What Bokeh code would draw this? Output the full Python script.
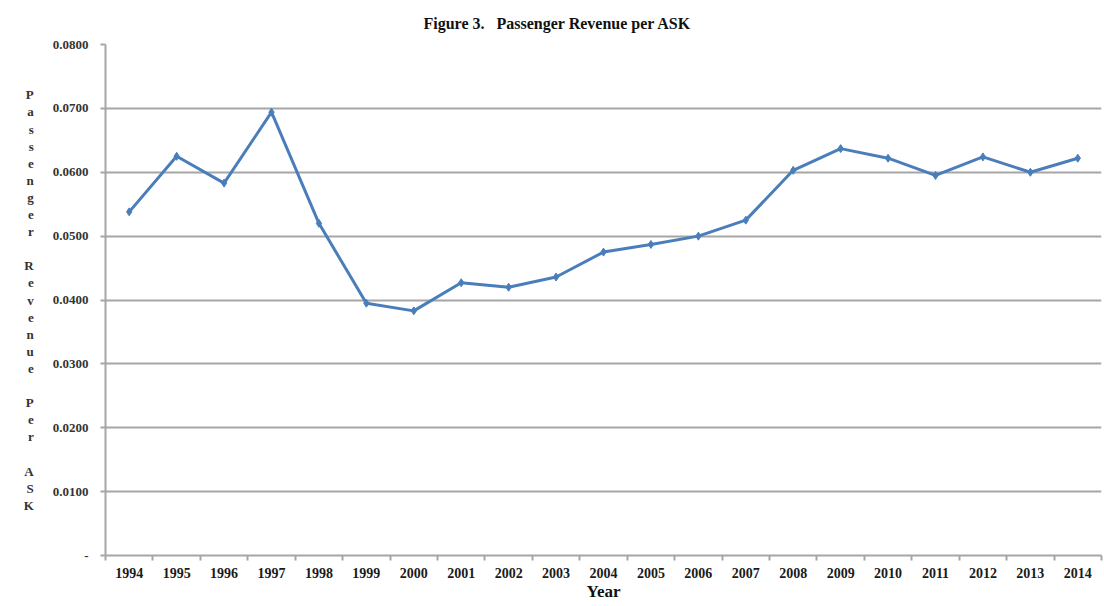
from bokeh.plotting import figure
from bokeh.models import FixedTicker, NumeralTickFormatter, Range1d
from bokeh.embed import file_html
from bokeh.resources import INLINE

# Passenger revenue per available seat kilometre, by year
years = [1994, 1995, 1996, 1997, 1998, 1999, 2000, 2001, 2002, 2003, 2004,
         2005, 2006, 2007, 2008, 2009, 2010, 2011, 2012, 2013, 2014]
revenue_per_ask = [0.0538, 0.0625, 0.0583, 0.0694, 0.0520, 0.0395, 0.0383,
                   0.0427, 0.0420, 0.0436, 0.0475, 0.0487, 0.0500, 0.0525,
                   0.0603, 0.0637, 0.0622, 0.0595, 0.0624, 0.0600, 0.0622]
y_ticks = [0.0, 0.01, 0.02, 0.03, 0.04, 0.05, 0.06, 0.07, 0.08]

title_text = "Figure 3.\u00a0\u00a0\u00a0Passenger Revenue per ASK"
y_title = "\n".join(list("Passenger") + [" "] + list("Revenue") + [" "] +
                    list("Per") + [" "] + list("ASK"))

SERIF = "Liberation Serif"
GRID = "#a6a6a6"
BLUE = "#4a7ebb"

p = figure(width=1104, height=606, output_backend="svg", toolbar_location=None,
           x_range=Range1d(years[0] - 0.5, years[-1] + 0.5),
           y_range=Range1d(y_ticks[0], y_ticks[-1]),
           min_border_left=105, min_border_right=3,
           min_border_top=44, min_border_bottom=51)

p.title.text = title_text
p.title.align = "left"
p.title.offset = 318
p.title.standoff = 25
p.title.text_font = SERIF
p.title.text_font_style = "bold"
p.title.text_font_size = "16px"
p.title.text_color = "#111111"

p.outline_line_color = None
p.background_fill_color = "white"
p.border_fill_color = "white"

# horizontal gridlines only
p.xgrid.visible = False
p.ygrid.ticker = FixedTicker(ticks=y_ticks)
p.ygrid.grid_line_color = GRID
p.ygrid.grid_line_width = 2

# x axis: year labels centred, tick marks between years
xa = p.xaxis[0]
xa.ticker = FixedTicker(ticks=years,
                        minor_ticks=[y - 0.5 for y in years] + [years[-1] + 0.5])
xa.formatter = NumeralTickFormatter(format="0")
xa.axis_line_color = GRID
xa.axis_line_width = 2
xa.major_tick_line_color = None
xa.major_tick_out = 0
xa.major_tick_in = 0
xa.minor_tick_line_color = GRID
xa.minor_tick_line_width = 2
xa.minor_tick_out = 5
xa.minor_tick_in = 0
xa.major_label_text_font = SERIF
xa.major_label_text_font_style = "bold"
xa.major_label_text_font_size = "14px"
xa.major_label_text_color = "#1a1a1a"
xa.major_label_standoff = 7
xa.axis_label = "Year"
xa.axis_label_text_font = SERIF
xa.axis_label_text_font_style = "bold"
xa.axis_label_text_font_size = "17px"
xa.axis_label_text_color = "#111111"
xa.axis_label_standoff = 1

# y axis
ya = p.yaxis[0]
ya.ticker = FixedTicker(ticks=y_ticks)
ya.formatter = NumeralTickFormatter(format="0.0000")
ya.major_label_overrides = {0: "-"}
ya.axis_line_color = GRID
ya.axis_line_width = 2
ya.major_tick_line_color = GRID
ya.major_tick_line_width = 2
ya.major_tick_out = 5
ya.major_tick_in = 0
ya.minor_tick_line_color = None
ya.major_label_text_font = SERIF
ya.major_label_text_font_style = "bold"
ya.major_label_text_font_size = "13px"
ya.major_label_text_color = "#333333"
ya.major_label_standoff = 12
ya.axis_label = y_title
ya.axis_label_orientation = "horizontal"
ya.axis_label_text_font = SERIF
ya.axis_label_text_font_style = "bold"
ya.axis_label_text_font_size = "13px"
ya.axis_label_text_color = "#333333"
ya.axis_label_text_line_height = 1.14
ya.axis_label_text_align = "center"
ya.axis_label_standoff = 16

p.line(years, revenue_per_ask, line_color=BLUE, line_width=3)
p.scatter(years, revenue_per_ask, marker="diamond", size=8,
          fill_color=BLUE, line_color=BLUE)

open("out.html", "w").write(file_html(p, INLINE))
